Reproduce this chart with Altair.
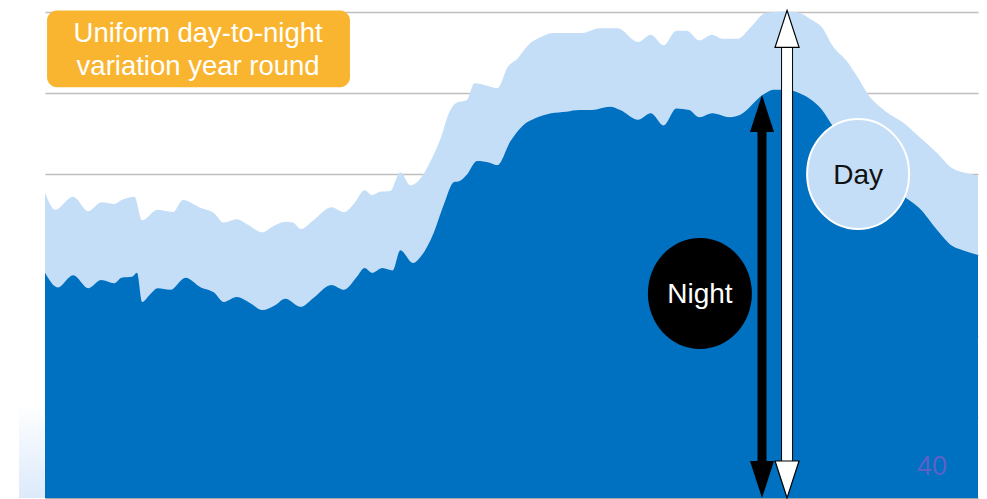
import altair as alt
import pandas as pd

# ---- data (day of year, load index) ----
day_x = [0, 4, 11, 17, 22, 27, 30, 35, 38, 44, 48, 50, 54, 61, 66, 70, 75, 79, 85, 89,
         94, 97, 100, 105, 112, 117, 121, 125, 128, 131, 135, 139, 143, 147, 151, 155, 158, 161, 165, 168,
         173, 177, 181, 185, 189, 194, 199, 204, 210, 217, 224, 232, 237, 242, 247, 251, 256, 261, 265, 271,
         276, 282, 290, 295, 300, 304, 308, 314, 318, 322, 329, 336, 342, 349, 355, 362, 365]
day_v = [37.7, 35.6, 37.2, 35.4, 36.5, 36.3, 36.8, 37.2, 34.3, 35.6,
         35.4, 35.3, 36.8, 35.8, 35.2, 34.0, 34.4, 33.8, 32.8, 33.5,
         34.1, 34.0, 33.2, 34.3, 35.9, 35.3, 36.4, 38.0, 37.4, 37.8,
         37.9, 40.2, 38.6, 39.5, 41.7, 44.6, 47.5, 48.8, 49.1, 51.2,
         50.9, 50.6, 53.2, 54.3, 55.9, 56.9, 57.4, 57.4, 57.4, 58.0,
         58.0, 56.3, 57.2, 55.9, 57.7, 57.7, 56.5, 57.2, 56.7, 56.7,
         58.1, 59.9, 60.1, 59.9, 59.0, 58.1, 55.9, 53.8, 51.9, 49.8,
         47.7, 46.3, 44.6, 42.6, 40.7, 40.0, 39.8]

night_x = [0, 5, 11, 17, 22, 27, 30, 34, 36, 38, 41, 44, 49, 55, 61, 66, 70, 75, 80, 85,
           90, 94, 100, 105, 112, 117, 122, 125, 128, 132, 136, 139, 144, 147, 152, 156, 160, 162, 165, 169,
           174, 177, 182, 187, 192, 198, 204, 209, 214, 221, 225, 232, 237, 242, 247, 252, 256, 261, 268, 272,
           281, 285, 290, 295, 300, 304, 308, 315, 323, 331, 337, 342, 349, 355, 359, 365]
night_v = [27.8, 26.0, 27.5, 25.9, 26.9, 26.5, 27.2, 27.3, 27.8, 24.2,
           25.1, 25.9, 25.7, 27.2, 26.0, 25.4, 24.2, 24.8, 24.1, 23.2,
           23.8, 24.6, 23.6, 24.7, 26.3, 25.7, 27.3, 28.4, 27.8, 28.4,
           28.1, 30.6, 29.0, 29.8, 32.7, 36.2, 39.0, 39.1, 39.9, 41.6,
           41.4, 41.1, 44.0, 46.0, 46.9, 47.5, 47.7, 47.9, 47.9, 48.3,
           47.9, 46.7, 47.5, 46.0, 48.1, 47.9, 47.0, 47.5, 47.0, 47.3,
           49.8, 50.4, 50.4, 50.0, 49.1, 47.9, 46.0, 43.0, 40.2, 38.3,
           37.0, 35.8, 33.1, 31.1, 30.6, 30.0]

box_lines = ["Uniform day-to-night", "variation year round"]
box_line_x = [59.9, 59.9]
box_line_y = [56.3, 52.2]
box_extent = {"x0": [0.8], "x1": [119.3], "y0": [60.2], "y1": [50.7]}

bubble_labels = ["Night", "Day"]
bubble_x = [256.2, 318.1]
bubble_y = [25.25, 40.0]
bubble_text_y = [24.1, 38.8]

arrow_x = [280.5, 290.3]
arrow_top = [49.75, 60.2]
arrow_bottom = [0.0, 0.0]

page_no = "40"

# ---- tables ----
day_df = pd.DataFrame({"day": day_x, "value": day_v})
night_df = pd.DataFrame({"day": night_x, "value": night_v})
box_df = pd.DataFrame(box_extent)
box_txt = pd.DataFrame({"t": box_lines, "x": box_line_x, "y": box_line_y})
night_b = pd.DataFrame({"t": [bubble_labels[0]], "x": [bubble_x[0]], "y": [bubble_y[0]], "ty": [bubble_text_y[0]]})
day_b = pd.DataFrame({"t": [bubble_labels[1]], "x": [bubble_x[1]], "y": [bubble_y[1]], "ty": [bubble_text_y[1]]})
arr_black = pd.DataFrame({"x": [arrow_x[0]], "top": [arrow_top[0]], "bottom": [arrow_bottom[0]]})
arr_white = pd.DataFrame({"x": [arrow_x[1]], "top": [arrow_top[1]], "bottom": [arrow_bottom[1]]})
page_df = pd.DataFrame({"t": [page_no], "x": [347.0], "y": [2.8]})

xs = alt.Scale(domain=[0, 365], nice=False, zero=False)
ys = alt.Scale(domain=[0, 60], nice=False, zero=True)
FONT = "Liberation Sans"


def X(field):
    return alt.X(field, scale=xs, title=None)


def Y(field):
    return alt.Y(field, scale=ys, title=None)


day_area = alt.Chart(day_df).mark_area(color="#C5DEF7", interpolate="monotone").encode(
    x=X("day:Q"), y=Y("value:Q"))
night_area = alt.Chart(night_df).mark_area(color="#0070C0", interpolate="monotone").encode(
    x=X("day:Q"), y=Y("value:Q"))

box = alt.Chart(box_df).mark_rect(color="#F9B530", cornerRadius=10).encode(
    x=X("x0:Q"), x2="x1:Q", y=Y("y0:Q"), y2="y1:Q")
box_text = alt.Chart(box_txt).mark_text(color="white", font=FONT, fontSize=27.5,
                                         align="center", baseline="alphabetic").encode(
    x=X("x:Q"), y=Y("y:Q"), text="t:N")


def ellipse(rx, ry):
    return f"M{-rx},0A{rx},{ry} 0 1,0 {rx},0A{rx},{ry} 0 1,0 {-rx},0Z"


night_circle = alt.Chart(night_b).mark_point(shape=ellipse(52, 55.5), size=4, filled=True,
                                              color="black", opacity=1).encode(x=X("x:Q"), y=Y("y:Q"))
night_label = alt.Chart(night_b).mark_text(color="white", font=FONT, fontSize=28, align="center",
                                           baseline="alphabetic").encode(x=X("x:Q"), y=Y("ty:Q"), text="t:N")
day_circle = alt.Chart(day_b).mark_point(shape=ellipse(51, 55), size=4, filled=True, fill="#C5DEF7",
                                          stroke="white", strokeWidth=2, opacity=1).encode(x=X("x:Q"), y=Y("y:Q"))
day_label = alt.Chart(day_b).mark_text(color="#111111", font=FONT, fontSize=28, align="center",
                                       baseline="alphabetic").encode(x=X("x:Q"), y=Y("ty:Q"), text="t:N")

HEAD_UP = "M0,0L-12,37L12,37Z"
HEAD_DOWN = "M0,0L-12,-37L12,-37Z"

black_shaft = alt.Chart(arr_black).mark_rule(color="black", strokeWidth=9, yOffset=28, y2Offset=-28).encode(
    x=X("x:Q"), y=Y("top:Q"), y2="bottom:Q")
black_up = alt.Chart(arr_black).mark_point(shape=HEAD_UP, size=4, filled=True, color="black", opacity=1).encode(
    x=X("x:Q"), y=Y("top:Q"))
black_down = alt.Chart(arr_black).mark_point(shape=HEAD_DOWN, size=4, filled=True, color="black", opacity=1).encode(
    x=X("x:Q"), y=Y("bottom:Q"))

white_shaft_o = alt.Chart(arr_white).mark_rule(color="black", strokeWidth=12, yOffset=28, y2Offset=-28).encode(
    x=X("x:Q"), y=Y("top:Q"), y2="bottom:Q")
white_shaft = alt.Chart(arr_white).mark_rule(color="white", strokeWidth=10, yOffset=27, y2Offset=-27).encode(
    x=X("x:Q"), y=Y("top:Q"), y2="bottom:Q")
white_up = alt.Chart(arr_white).mark_point(shape=HEAD_UP, size=4, filled=True, fill="white", stroke="black",
                                           strokeWidth=1.2, opacity=1).encode(x=X("x:Q"), y=Y("top:Q"))
white_down = alt.Chart(arr_white).mark_point(shape=HEAD_DOWN, size=4, filled=True, fill="white", stroke="black",
                                             strokeWidth=1.2, opacity=1).encode(x=X("x:Q"), y=Y("bottom:Q"))

page = alt.Chart(page_df).mark_text(color="#5A62C8", font=FONT, fontSize=27, align="center",
                                    baseline="alphabetic").encode(x=X("x:Q"), y=Y("y:Q"), text="t:N")

corner = alt.Chart(page_df).mark_rect(
    fill=alt.Gradient(gradient="linear", x1=0, x2=0, y1=0, y2=1,
                      stops=[alt.GradientStop(color="#FFFFFF", offset=0),
                             alt.GradientStop(color="#DCEAFB", offset=1)])
).encode(x=alt.value(-26), x2=alt.value(0), y=alt.value(392), y2=alt.value(486))

chart = alt.layer(
    day_area, night_area, box, box_text,
    night_circle, night_label, day_circle, day_label,
    black_shaft, black_up, black_down,
    white_shaft_o, white_shaft, white_up, white_down,
    page, corner,
).properties(
    width=933, height=486,
    autosize=alt.AutoSizeParams(type="none"),
    padding={"left": 37, "top": 4, "right": 1, "bottom": 1},
    background="white",
).configure_view(
    stroke=None
).configure_axis(
    labels=False, ticks=False, title=None
).configure_axisX(
    grid=False, domain=True, domainColor="#A6A6A6", domainWidth=1, zindex=1
).configure_axisY(
    grid=True, domain=False, gridColor="#BFBFBF", gridWidth=1.5, tickCount=6, zindex=0
)

chart.save("out.html", embed_options={"renderer": "svg", "actions": False})
